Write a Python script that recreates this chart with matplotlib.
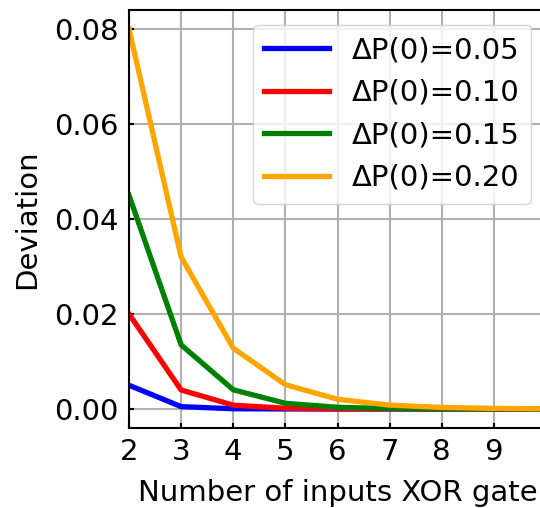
import matplotlib
matplotlib.use('Agg')
import matplotlib.pyplot as plt

n_inputs = [2, 3, 4, 5, 6, 7, 8, 9, 10]

# deviation after the XOR gate
dev_005 = [0.005, 0.0005, 0.00005, 0.000005, 0.0000005, 0.0, 0.0, 0.0, 0.0]
dev_010 = [0.02, 0.004, 0.0008, 0.00016, 0.000032, 0.0000064, 0.0000013, 0.0, 0.0]
dev_015 = [0.045, 0.0135, 0.00405, 0.0012, 0.00036, 0.00011, 0.000033, 0.00001, 0.000003]
dev_020 = [0.08, 0.032, 0.0128, 0.00512, 0.00205, 0.00082, 0.00033, 0.00013, 0.00005]

labels = ['ΔP(0)=0.05', 'ΔP(0)=0.10', 'ΔP(0)=0.15', 'ΔP(0)=0.20']
colors = ['blue', 'red', 'green', 'orange']

fig = plt.figure(figsize=(5.4, 5.08), dpi=100)
ax = fig.add_axes([129 / 540, 80 / 508, 417 / 540, 418 / 508])

for ys, lab, c in zip([dev_005, dev_010, dev_015, dev_020], labels, colors):
    ax.plot(n_inputs, ys, color=c, lw=3.8, label=lab)

ax.set_xlim(2, 10)
ax.set_ylim(-0.004, 0.084)
ax.set_xticks([2, 3, 4, 5, 6, 7, 8, 9])
ax.set_yticks([0.0, 0.02, 0.04, 0.06, 0.08])
ax.grid(True, color='#b0b0b0', lw=1.5)
ax.tick_params(direction='in', labelsize=21, width=1.5, pad=7.5)
for s in ax.spines.values():
    s.set_linewidth(1.5)
ax.set_xlabel('Number of inputs XOR gate', fontsize=21, labelpad=9)
ax.set_ylabel('Deviation', fontsize=21, labelpad=9)
ax.legend(loc='upper right', fontsize=21, handlelength=2.2)

fig.savefig('out.png', dpi=100)
